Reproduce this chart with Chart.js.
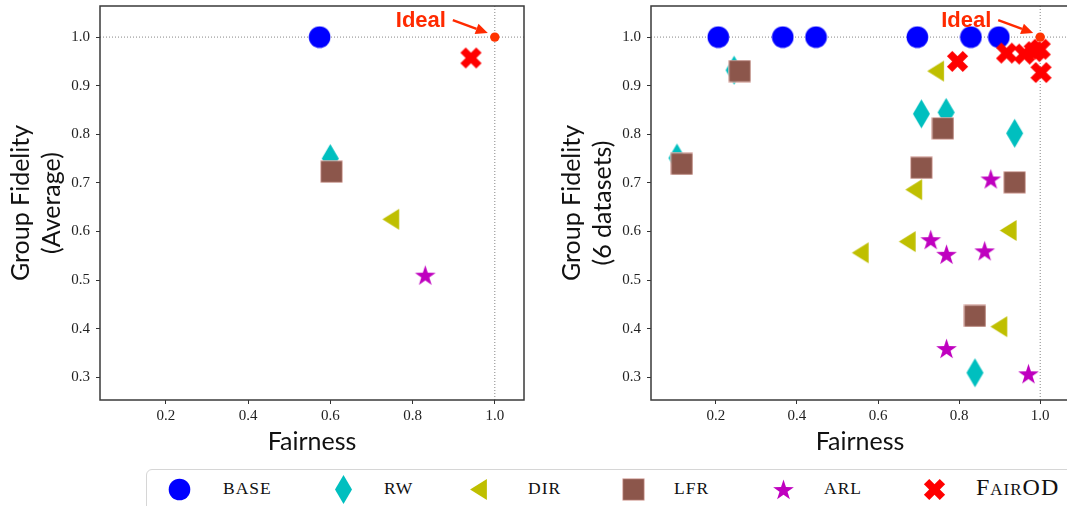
<!DOCTYPE html>
<html>
<head>
<meta charset="utf-8">
<script src="https://cdn.jsdelivr.net/npm/chart.js@4.4.1/dist/chart.umd.min.js"></script>
<style>
  html, body { margin: 0; padding: 0; background: #fff; }
  body { width: 1067px; height: 506px; overflow: hidden; position: relative; }
  canvas { position: absolute; top: -5px; }
  #avgChart { left: 0; }
  #allChart { left: 540px; }
  #legend {
    position: absolute; left: 146px; top: 469px; width: 950px; height: 60px;
    border: 1px solid #d6d6d6; border-radius: 6px; box-sizing: border-box;
  }
  #legend canvas { top: auto; }
  .mk { position: absolute; }
  .lbl { position: absolute; font-family: 'Liberation Serif', serif; color: #111; line-height: 1; white-space: nowrap; letter-spacing: 1px; }
</style>
</head>
<body>
<canvas id="avgChart" width="540" height="465"></canvas>
<canvas id="allChart" width="540" height="465"></canvas>
<div id="legend"></div>
<script>
var methods = ['BASE', 'RW', 'DIR', 'LFR', 'ARL', 'FairOD'];
var colors = ['#0000ff', '#00bfbf', '#bfbf00', '#8c564b', '#bf00bf', '#ff0000'];
var shapes = ['circle', 'diamond', 'triangle', 'square', 'star', 'cross'];

// averaged over the six datasets, one value per method
var avgFairness = [0.574, 0.600, 0.747, 0.603, 0.831, 0.942];
var avgFidelity = [1.000, 0.750, 0.625, 0.723, 0.510, 0.957];

// one row per method, one entry per dataset
var dsFairness = [
    [0.206, 0.365, 0.447, 0.697, 0.829, 0.898],
    [0.245, 0.104, 0.707, 0.768, 0.937, 0.839],
    [0.742, 0.688, 0.556, 0.672, 0.921, 0.898],
    [0.259, 0.116, 0.760, 0.707, 0.937, 0.839],
    [0.878, 0.730, 0.769, 0.863, 0.769, 0.971],
    [0.796, 0.917, 0.961, 0.985, 1.000, 1.002]
];
var dsFidelity = [
    [1.000, 1.000, 1.000, 1.000, 1.000, 1.000],
    [0.932, 0.751, 0.842, 0.845, 0.802, 0.309],
    [0.930, 0.686, 0.556, 0.579, 0.602, 0.404],
    [0.930, 0.739, 0.812, 0.731, 0.701, 0.426],
    [0.708, 0.583, 0.553, 0.560, 0.359, 0.307],
    [0.950, 0.967, 0.965, 0.970, 0.975, 0.927]
];

var idealPoint = [1.0, 1.0];
var xTicks = [0.2, 0.4, 0.6, 0.8, 1.0];
var yTicks = [0.3, 0.4, 0.5, 0.6, 0.7, 0.8, 0.9, 1.0];

// marker images, roughly the matplotlib o d < s * X shapes
function makeMarker(kind, color) {
    var c = document.createElement('canvas');
    var w = 23, h = 23;
    if (kind === 'diamond') { w = 19; h = 31; }
    if (kind === 'triangle') { w = 19; h = 23; }
    c.width = w; c.height = h;
    var g = c.getContext('2d');
    g.fillStyle = color;
    g.translate(w / 2, h / 2);
    g.beginPath();
    if (kind === 'circle') {
        g.arc(0, 0, 10.8, 0, Math.PI * 2);
    } else if (kind === 'diamond') {
        g.moveTo(0, -14.5); g.lineTo(8.5, 0); g.lineTo(0, 14.5); g.lineTo(-8.5, 0);
    } else if (kind === 'triangle') {
        g.moveTo(-8.4, 0); g.lineTo(8.4, -10.5); g.lineTo(8.4, 10.5);
    } else if (kind === 'square') {
        g.rect(-10.8, -10.8, 21.6, 21.6);
    } else if (kind === 'star') {
        for (var i = 0; i < 10; i++) {
            var r = i % 2 ? 4.2 : 10.9;
            var a = -Math.PI / 2 + i * Math.PI / 5;
            g.lineTo(Math.cos(a) * r, Math.sin(a) * r + 1);
        }
    } else if (kind === 'cross') {
        g.rotate(Math.PI / 4);
        var L = 11.2, t = 3.8;
        var pts = [[-t, -L], [t, -L], [t, -t], [L, -t], [L, t], [t, t], [t, L], [-t, L], [-t, t], [-L, t], [-L, -t], [-t, -t]];
        pts.forEach(function (p) { g.lineTo(p[0], p[1]); });
    }
    g.closePath();
    g.fill();
    if (kind === 'square') {
        g.strokeStyle = 'rgba(230,190,185,0.8)';
        g.lineWidth = 1;
        g.stroke();
    }
    return c;
}

var markerImgs = shapes.map(function (s, i) { return makeMarker(s, colors[i]); });

// dotted guides at 1.0, the box frame and the "Ideal" callout
var decorations = {
    id: 'decorations',
    beforeDatasetsDraw: function (chart) {
        var ctx = chart.ctx, a = chart.chartArea;
        var px = chart.scales.x.getPixelForValue(idealPoint[0]);
        var py = chart.scales.y.getPixelForValue(idealPoint[1]);
        ctx.save();
        ctx.strokeStyle = '#666';
        ctx.lineWidth = 0.8;
        ctx.setLineDash([1, 2]);
        ctx.beginPath();
        ctx.moveTo(a.left, py); ctx.lineTo(a.right, py);
        ctx.moveTo(px, a.top); ctx.lineTo(px, a.bottom);
        ctx.stroke();
        ctx.restore();
    },
    afterDatasetsDraw: function (chart) {
        var ctx = chart.ctx;
        var px = chart.scales.x.getPixelForValue(idealPoint[0]);
        var py = chart.scales.y.getPixelForValue(idealPoint[1]);
        ctx.save();
        ctx.fillStyle = '#ff2a00';
        ctx.strokeStyle = '#ff2a00';
        ctx.font = 'bold 22px "Liberation Sans", Arial, sans-serif';
        ctx.textBaseline = 'alphabetic';
        ctx.textAlign = 'left';
        ctx.fillText('Ideal', px - 99, py - 9.6);
        var x0 = px - 42, y0 = py - 17, x1 = px - 7, y1 = py - 4;
        var ang = Math.atan2(y1 - y0, x1 - x0);
        var hl = 12, hw = 5.5;
        var bx = x1 - Math.cos(ang) * hl, by = y1 - Math.sin(ang) * hl;
        ctx.lineWidth = 2.4;
        ctx.beginPath();
        ctx.moveTo(x0, y0); ctx.lineTo(bx, by);
        ctx.stroke();
        ctx.beginPath();
        ctx.moveTo(x1, y1);
        ctx.lineTo(bx - Math.sin(ang) * hw, by + Math.cos(ang) * hw);
        ctx.lineTo(bx + Math.sin(ang) * hw, by - Math.cos(ang) * hw);
        ctx.closePath();
        ctx.fill();
        ctx.restore();
    },
    afterDraw: function (chart) {
        var ctx = chart.ctx, a = chart.chartArea;
        ctx.save();
        ctx.strokeStyle = '#3a3a3a';
        ctx.lineWidth = 1.5;
        ctx.strokeRect(a.left, a.top, a.right - a.left, a.bottom - a.top);
        ctx.restore();
    }
};

function buildChart(id, xs, ys, yTitle, padLeft, padRight) {
    var datasets = methods.map(function (m, i) {
        var pts = xs[i].map(function (v, j) { return { x: v, y: ys[i][j] }; });
        return {
            label: m,
            data: pts,
            pointStyle: markerImgs[i],
            pointRadius: 10,
            order: methods.length - i
        };
    });
    datasets.push({
        label: 'Ideal',
        data: [{ x: idealPoint[0], y: idealPoint[1] }],
        pointStyle: 'circle',
        pointRadius: 4.7,
        backgroundColor: '#ff3300',
        borderWidth: 0,
        order: 0
    });
    var tickFont = { family: '"Liberation Serif", serif', size: 15 };
    var titleFont = { family: 'Lato, sans-serif', size: 25, lineHeight: 1.25 };
    return new Chart(document.getElementById(id).getContext('2d'), {
        type: 'scatter',
        data: { datasets: datasets },
        options: {
            responsive: false,
            animation: false,
            layout: { padding: { top: 0, left: padLeft, right: padRight, bottom: 0 } },
            plugins: { legend: { display: false }, tooltip: { enabled: false } },
            scales: {
                x: {
                    type: 'linear', min: 0.04, max: 1.071,
                    afterBuildTicks: function (s) { s.ticks = xTicks.map(function (v) { return { value: v }; }); },
                    afterFit: function (s) { s.height = 60; s.paddingLeft = 0; s.paddingRight = 0; },
                    grid: { drawOnChartArea: false, tickLength: 4, tickColor: '#333', tickWidth: 1 },
                    border: { display: false },
                    ticks: { font: tickFont, color: '#222', padding: 3, maxRotation: 0,
                        callback: function (v) { return v.toFixed(1); } },
                    title: { display: true, text: 'Fairness', font: titleFont, color: '#111',
                        padding: { top: 0, bottom: 2 } }
                },
                y: {
                    type: 'linear', min: 0.253, max: 1.064,
                    afterBuildTicks: function (s) { s.ticks = yTicks.map(function (v) { return { value: v }; }); },
                    afterFit: function (s) { s.width = 100; s.paddingTop = 0; s.paddingBottom = 0; },
                    grid: { drawOnChartArea: false, tickLength: 4, tickColor: '#333', tickWidth: 1 },
                    border: { display: false },
                    ticks: { font: tickFont, color: '#222', padding: 6,
                        callback: function (v) { return v.toFixed(1); } },
                    title: { display: true, text: yTitle, font: titleFont, color: '#111',
                        padding: { top: 5, bottom: 0 } }
                }
            }
        },
        plugins: [decorations]
    });
}

buildChart('avgChart', avgFairness.map(function (v) { return [v]; }),
    avgFidelity.map(function (v) { return [v]; }), ['Group Fidelity', '(Average)'], 0, 16);
buildChart('allChart', dsFairness, dsFidelity, ['Group Fidelity', '(6 datasets)'], 11, 5);

// shared legend row under both panels
var legendMarkerX = [178, 342, 477, 632, 782, 933];
var legendLabelX = [222, 383, 527, 673, 823, 975];
var legend = document.getElementById('legend');
methods.forEach(function (m, i) {
    var img = makeMarker(shapes[i], colors[i]);
    img.className = 'mk';
    img.style.left = (legendMarkerX[i] - 146 - img.width / 2) + 'px';
    img.style.top = (488 - 469 - img.height / 2) + 'px';
    legend.appendChild(img);
    var span = document.createElement('div');
    span.className = 'lbl';
    span.textContent = m;
    var mixed = m !== m.toUpperCase();
    var size = mixed ? 24 : 17.5;
    span.style.fontSize = size + 'px';
    if (mixed) span.style.fontVariant = 'small-caps';
    span.style.left = (legendLabelX[i] - 146) + 'px';
    span.style.top = (494 - 0.8375 * size - 469) + 'px';
    legend.appendChild(span);
});
</script>
</body>
</html>
